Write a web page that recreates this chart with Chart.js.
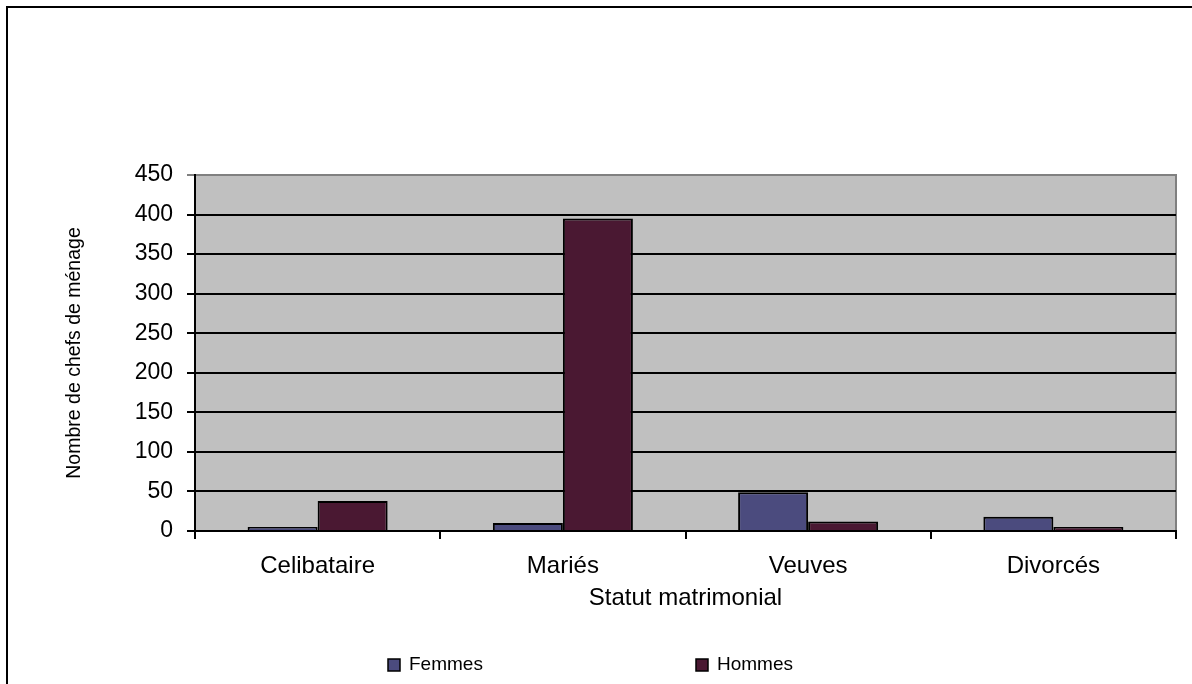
<!DOCTYPE html>
<html>
<head>
<meta charset="utf-8">
<script src="https://cdn.jsdelivr.net/npm/chart.js@4.4.0/dist/chart.umd.min.js"></script>
<style>
  body { margin: 0; background: #fff; }
  canvas { display: block; }
</style>
</head>
<body>
<canvas id="grafico" width="1192" height="684"></canvas>
<script>
// dados
var categorias = ['Celibataire', 'Mariés', 'Veuves', 'Divorcés'];
var femmes = [5, 10, 49, 18];
var hommes = [38, 395, 12, 5];
var nomesSeries = ['Femmes', 'Hommes'];
var coresSeries = ['#4B4B7E', '#4A1832'];
var tituloY = 'Nombre de chefs de ménage';
var tituloX = 'Statut matrimonial';
var eixoYMax = 450;
var eixoYPasso = 50;

var fonte = "'Liberation Sans', Arial, sans-serif";

// fundo cinza da area do grafico + moldura
var fundoPlot = {
    id: 'fundoPlot',
    beforeDraw: function(chart){
        var a = chart.chartArea;
        var ctx = chart.ctx;
        ctx.save();
        ctx.fillStyle = '#C0C0C0';
        ctx.fillRect(a.left, a.top, a.right - a.left, a.bottom - a.top);
        ctx.strokeStyle = '#808080';
        ctx.lineWidth = 2;
        ctx.beginPath();
        ctx.moveTo(a.left, a.top);
        ctx.lineTo(a.right, a.top);
        ctx.lineTo(a.right, a.bottom);
        ctx.stroke();
        ctx.restore();
    },
    afterDraw: function(chart){
        var ctx = chart.ctx;
        ctx.save();
        // moldura externa (cortada a direita e embaixo)
        ctx.fillStyle = '#000';
        ctx.fillRect(6, 6, chart.width - 6, 2);
        ctx.fillRect(6, 6, 2, chart.height - 6);
        ctx.restore();
    }
};

// legenda desenhada a mao (itens bem espacados como no Excel)
var legendaExcel = {
    id: 'legendaExcel',
    afterDraw: function(chart){
        var ctx = chart.ctx;
        var posX = [388, 696];
        var y = 665;
        ctx.save();
        ctx.font = '19px ' + fonte;
        ctx.textBaseline = 'middle';
        chart.data.datasets.forEach(function(ds, i){
            ctx.fillStyle = ds.backgroundColor;
            ctx.fillRect(posX[i], y - 6, 12, 12);
            ctx.strokeStyle = '#000';
            ctx.lineWidth = 1.5;
            ctx.strokeRect(posX[i], y - 6, 12, 12);
            ctx.fillStyle = '#000';
            ctx.fillText(ds.label, posX[i] + 21, y);
        });
        ctx.restore();
    }
};

var dadosGrafico = {
    labels: categorias,
    datasets: [
        {
            label: nomesSeries[0],
            data: femmes,
            backgroundColor: coresSeries[0],
            borderColor: '#000',
            borderWidth: 2
        },
        {
            label: nomesSeries[1],
            data: hommes,
            backgroundColor: coresSeries[1],
            borderColor: '#000',
            borderWidth: 2
        }
    ]
};

var $canvas = document.getElementById('grafico').getContext('2d');
var grafico = new Chart($canvas, {
    type: 'bar',
    data: dadosGrafico,
    plugins: [fundoPlot, legendaExcel],
    options: {
        responsive: false,
        animation: false,
        layout: { padding: { left: 0, right: 16, top: 175, bottom: 0 } },
        datasets: {
            bar: { categoryPercentage: 0.571, barPercentage: 1 }
        },
        plugins: {
            legend: { display: false },
            tooltip: { enabled: false }
        },
        scales: {
            x: {
                grid: {
                    drawOnChartArea: false,
                    drawTicks: true,
                    tickLength: 8,
                    color: '#000',
                    lineWidth: 2
                },
                border: { color: '#000', width: 2 },
                ticks: {
                    color: '#000',
                    padding: 13,
                    font: { family: fonte, size: 24 }
                },
                title: {
                    display: true,
                    text: tituloX,
                    color: '#000',
                    font: { family: fonte, size: 24, lineHeight: 1 },
                    padding: { top: 0, bottom: 74 }
                },
                afterFit: function(scale){ scale.height = 153; }
            },
            y: {
                min: 0,
                max: eixoYMax,
                grid: {
                    color: function(c){ return c.tick && c.tick.value === eixoYMax ? '#808080' : '#000'; },
                    lineWidth: 2,
                    tickLength: 8
                },
                border: { color: '#000', width: 2 },
                ticks: {
                    stepSize: eixoYPasso,
                    color: '#000',
                    padding: 14,
                    font: { family: fonte, size: 23 }
                },
                title: {
                    display: true,
                    text: tituloY,
                    color: '#000',
                    font: { family: fonte, size: 19.5, lineHeight: 1 },
                    padding: { top: 65, bottom: 0 }
                },
                afterFit: function(scale){ scale.width = 195; }
            }
        }
    }
});
</script>
</body>
</html>
